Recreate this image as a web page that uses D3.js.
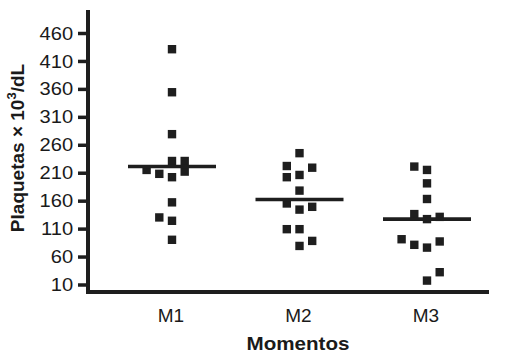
<!DOCTYPE html>
<html>
<head>
<meta charset="utf-8">
<script src="https://cdn.jsdelivr.net/npm/d3@7/dist/d3.min.js"></script>
<style>
  html, body { margin: 0; padding: 0; background: #fff; }
  svg { display: block; }
  text { font-family: "Liberation Sans", Arial, Helvetica, sans-serif; fill: #1a1a1a; }
</style>
</head>
<body>
<svg id="chart" width="510" height="355"></svg>
<script>
// ---- data ----
const categories = ["M1", "M2", "M3"];
const yTicks = [10, 60, 110, 160, 210, 260, 310, 360, 410, 460];

const m1Values = [431, 354, 279, 231, 231, 212, 208, 202, 215, 157, 130, 124, 90];
const m1Slots  = [0, 0, 0, 0, 1, 1, -1, 0, -2, 0, -1, 0, 0];

const m2Values = [245, 222, 219, 202, 206, 178, 155, 144, 149, 109, 109, 88, 79];
const m2Slots  = [0, -1, 1, -1, 0, 0, -1, 0, 1, -1, 0, 1, 0];

const m3Values = [221, 215, 191, 163, 136, 127, 131, 91, 81, 76, 87, 32, 17];
const m3Slots  = [-1, 0, 0, 0, -1, 0, 1, -2, -1, 0, 1, 1, 0];

const meanValues = [221, 162, 127];

// ---- layout ----
const svg = d3.select("#chart");
const axisX = 88, axisBottom = 292, axisTop = 10, axisRight = 489;

const x = d3.scalePoint().domain(categories).range([172, 427]);
const y = d3.scaleLinear().domain([10, 460]).range([284.5, 33]);
const slot = d3.scaleLinear().domain([-1, 1]).range([-12.7, 12.7]);

const groups = [
  { cat: "M1", values: m1Values, slots: m1Slots },
  { cat: "M2", values: m2Values, slots: m2Slots },
  { cat: "M3", values: m3Values, slots: m3Slots }
];

const ink = "#1e1e1e";
const sq = 8.4;

// points
groups.forEach(g => {
  svg.append("g").selectAll("rect")
    .data(g.values.map((v, i) => ({ v, s: g.slots[i] })))
    .join("rect")
    .attr("x", d => x(g.cat) + slot(d.s) - sq / 2)
    .attr("y", d => y(d.v) - sq / 2)
    .attr("width", sq)
    .attr("height", sq)
    .attr("fill", ink);
});

// mean lines
svg.append("g").selectAll("line")
  .data(categories.map((c, i) => ({ c, m: meanValues[i] })))
  .join("line")
  .attr("x1", d => x(d.c) - 44)
  .attr("x2", d => x(d.c) + 44)
  .attr("y1", d => y(d.m))
  .attr("y2", d => y(d.m))
  .attr("stroke", ink)
  .attr("stroke-width", 3.6);

// y axis
const yAxis = d3.axisLeft(y).tickValues(yTicks).tickSize(10).tickPadding(4).tickFormat(d3.format("d"));
const gy = svg.append("g").attr("transform", `translate(${axisX},0)`).call(yAxis);
gy.select(".domain").remove();
gy.selectAll(".tick line").attr("stroke", ink).attr("stroke-width", 3.5);
gy.selectAll(".tick text").style("font-size", "19px").attr("fill", "#1a1a1a")
  .attr("transform", "scale(1.06,1)");

svg.append("line")
  .attr("x1", axisX).attr("x2", axisX)
  .attr("y1", axisTop).attr("y2", axisBottom + 2)
  .attr("stroke", ink).attr("stroke-width", 4);

// x axis
svg.append("line")
  .attr("x1", axisX - 2).attr("x2", axisRight)
  .attr("y1", axisBottom).attr("y2", axisBottom)
  .attr("stroke", ink).attr("stroke-width", 4);

svg.append("g").selectAll("text")
  .data(categories)
  .join("text")
  .attr("x", d => x(d) - 1)
  .attr("y", 322)
  .attr("text-anchor", "middle")
  .style("font-size", "19px")
  .text(d => d);

svg.append("text")
  .attr("x", 298)
  .attr("y", 350)
  .attr("text-anchor", "middle")
  .style("font-size", "19px")
  .style("font-weight", "bold")
  .attr("textLength", 103)
  .attr("lengthAdjust", "spacingAndGlyphs")
  .text("Momentos");

const yl = svg.append("text")
  .attr("transform", "translate(24,148) rotate(-90)")
  .attr("text-anchor", "middle")
  .style("font-size", "19px")
  .style("font-weight", "bold");
yl.append("tspan").text("Plaquetas × 10");
yl.append("tspan").attr("dy", -8).style("font-size", "13px").text("3");
yl.append("tspan").attr("dy", 8).text("/dL");
</script>
</body>
</html>
